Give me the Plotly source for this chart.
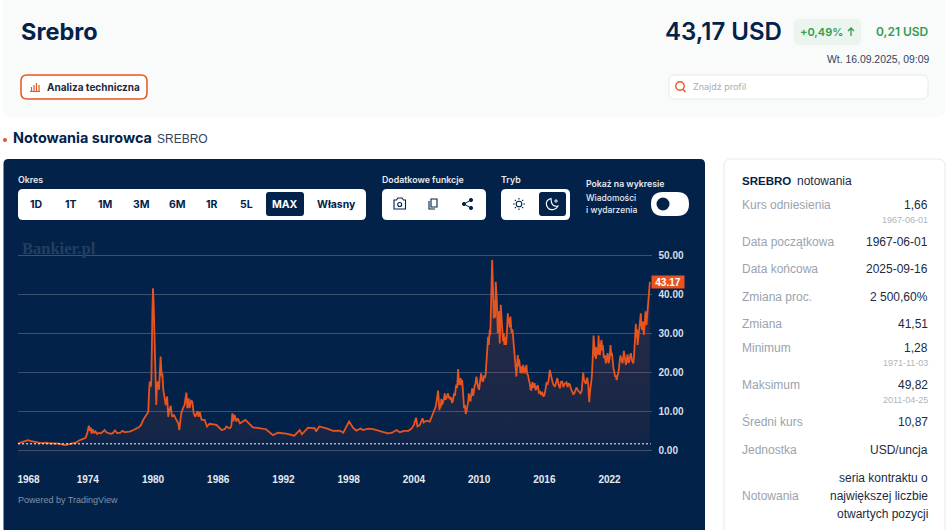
import re
import plotly.graph_objects as go

SZER = 948
WYS = 530

NAVY = '#03224a'
POMARANCZ = '#e8541f'
ZIELONY = '#2f9e4f'
SZARY = '#9aa3ad'
TEKST = '#1b2a41'

# notowania srebra, podzielone na okresy
lata_1967 = [
    1967.6, 1967.9, 1968.2, 1968.5, 1968.8, 1969.1, 1969.5, 1969.9, 1970.2, 1970.5,
    1970.9, 1971.3, 1971.7, 1971.9, 1972.3, 1972.7, 1972.95, 1973.2, 1973.5, 1973.8,
    1973.95, 1974.1, 1974.18, 1974.27, 1974.35, 1974.45, 1974.55, 1974.7, 1974.85, 1975.0,
    1975.2, 1975.4, 1975.55, 1975.7, 1975.85, 1976.1, 1976.3, 1976.5, 1976.7, 1977.0,
    1977.2, 1977.4, 1977.6, 1977.85, 1978.2, 1978.47, 1978.7, 1978.9, 1979.1, 1979.4,
    1979.57, 1979.63, 1979.7, 1979.8, 1979.85,
]
ceny_1967 = [
    1.75, 2.1, 2.3, 2.6, 2.35, 2.1, 1.95, 1.85, 1.95, 1.8,
    1.75, 1.7, 1.45, 1.35, 1.6, 1.75, 2.0, 2.5, 2.9, 3.2,
    4.4, 6.3, 5.0, 5.9, 4.3, 5.4, 4.4, 4.9, 4.2, 4.5,
    4.3, 4.7, 5.2, 4.6, 4.4, 4.2, 4.4, 5.1, 4.4, 4.5,
    5.0, 4.6, 4.7, 4.8, 5.2, 5.5, 5.9, 6.5, 7.8, 9.1,
    9.9, 14.6, 17.6, 16.3, 18.0,
]
lata_1980 = [
    1979.94, 1980.0, 1980.06, 1980.1, 1980.15, 1980.18, 1980.25, 1980.3, 1980.37, 1980.46,
    1980.55, 1980.6, 1980.7, 1980.8, 1980.86, 1980.95, 1981.04, 1981.17, 1981.3, 1981.4,
    1981.5, 1981.63, 1981.75, 1981.93, 1982.15, 1982.33, 1982.42, 1982.6, 1982.76, 1982.9,
    1983.07, 1983.16, 1983.28, 1983.37, 1983.5, 1983.62, 1983.74, 1983.9, 1984.08, 1984.2,
    1984.3, 1984.47, 1984.75, 1984.97, 1985.2, 1985.83, 1986.3, 1986.6, 1986.75, 1987.05,
    1987.2, 1987.3, 1987.4, 1987.5, 1987.67, 1987.8, 1988.0, 1988.5, 1989.2, 1990.4,
    1991.04, 1991.5, 1992.27, 1993.0, 1993.5, 1993.7, 1994.26, 1994.9, 1995.0, 1995.3,
    1995.95, 1996.56, 1997.18, 1997.5, 1998.04, 1998.4, 1998.7, 1999.1, 1999.3, 1999.8,
    2000.25, 2000.9, 2001.6, 2002.0, 2002.4, 2002.7, 2003.1, 2003.5, 2003.8, 2004.0,
    2004.2, 2004.33, 2004.55, 2004.8, 2004.9, 2005.15, 2005.46,
]
ceny_1980 = [
    35.0, 41.5, 37.7, 33.4, 33.8, 26.6, 16.3, 11.6, 17.2, 17.6,
    15.5, 18.0, 24.0, 18.9, 19.7, 15.5, 14.2, 11.6, 13.8, 8.6,
    10.3, 11.4, 8.6, 9.0, 7.8, 6.9, 5.2, 9.5, 10.8, 11.6,
    14.8, 10.8, 13.3, 10.8, 12.7, 12.5, 9.5, 8.6, 10.0, 8.6,
    9.9, 7.8, 7.8, 6.1, 6.8, 6.5, 5.2, 5.4, 6.1, 5.6,
    6.1, 9.5, 7.4, 9.1, 7.4, 8.2, 6.9, 7.8, 5.9, 5.4,
    3.9, 4.5, 4.3, 3.76, 5.2, 4.1, 5.8, 5.6, 4.8, 6.1,
    5.6, 5.0, 5.05, 4.5, 7.35, 5.8, 5.05, 5.6, 5.2, 5.55,
    5.4, 4.9, 4.35, 4.5, 5.2, 4.6, 5.0, 5.0, 5.6, 6.5,
    8.35, 6.1, 6.5, 8.2, 7.1, 7.6, 7.35,
]
lata_2005 = [
    2005.77, 2005.9, 2006.01, 2006.08, 2006.15, 2006.23, 2006.28, 2006.35, 2006.42, 2006.47,
    2006.53, 2006.6, 2006.69, 2006.76, 2006.84, 2006.92, 2007.0, 2007.06, 2007.14, 2007.22,
    2007.3, 2007.38, 2007.45, 2007.52, 2007.6, 2007.7, 2007.78, 2007.84, 2007.9, 2007.98,
    2008.07, 2008.12, 2008.16, 2008.23, 2008.31, 2008.37, 2008.44, 2008.49, 2008.53, 2008.62,
    2008.7, 2008.77, 2008.85, 2008.93, 2009.0, 2009.05, 2009.12, 2009.2, 2009.28, 2009.36,
    2009.43, 2009.5, 2009.58, 2009.66, 2009.75, 2009.82, 2009.9, 2010.0, 2010.08, 2010.18,
    2010.27, 2010.37, 2010.45, 2010.52, 2010.6, 2010.67, 2010.75, 2010.83, 2010.89, 2010.98,
]
ceny_2005 = [
    9.5, 10.2, 11.2, 12.4, 13.6, 15.3, 13.2, 10.3, 11.9, 11.0,
    13.2, 11.7, 12.5, 13.0, 14.6, 13.0, 13.4, 13.8, 14.6, 13.3,
    13.8, 12.9, 13.5, 12.1, 12.8, 14.6, 14.0, 15.6, 16.8, 16.0,
    20.8, 18.6, 16.8, 17.4, 18.5, 16.6, 18.0, 16.2, 13.8, 10.8,
    11.6, 9.3, 10.1, 11.2, 12.6, 14.6, 13.0, 12.5, 14.2, 15.9,
    14.0, 14.6, 16.5, 17.0, 18.9, 17.0, 16.3, 15.5, 18.0, 19.7,
    18.0, 17.6, 19.2, 18.5, 19.4, 22.3, 25.0, 29.1, 27.0, 30.9,
]
lata_2011 = [
    2011.03, 2011.07, 2011.14, 2011.2, 2011.25, 2011.29, 2011.35, 2011.4, 2011.44, 2011.48,
    2011.53, 2011.58, 2011.63, 2011.68, 2011.72, 2011.77, 2011.81, 2011.86, 2011.9, 2011.95,
    2011.99, 2012.04, 2012.09, 2012.15, 2012.21, 2012.27, 2012.33, 2012.4, 2012.48, 2012.55,
    2012.6, 2012.64, 2012.7, 2012.76, 2012.82, 2012.88, 2012.95, 2013.0, 2013.07, 2013.13,
    2013.2, 2013.28, 2013.33, 2013.37, 2013.43, 2013.5, 2013.56, 2013.62, 2013.68, 2013.74,
    2013.8, 2013.9, 2013.97, 2014.05, 2014.12, 2014.2, 2014.27, 2014.35, 2014.42, 2014.5,
    2014.58, 2014.66, 2014.73, 2014.8, 2014.9, 2015.0, 2015.1, 2015.2, 2015.3, 2015.4,
    2015.5, 2015.6, 2015.7, 2015.8, 2015.9, 2016.0, 2016.1, 2016.2, 2016.3, 2016.4,
    2016.5, 2016.6, 2016.7, 2016.8, 2016.97, 2017.07, 2017.2, 2017.3, 2017.43, 2017.52,
    2017.65, 2017.75, 2017.85, 2018.04, 2018.14, 2018.25, 2018.35, 2018.46, 2018.55, 2018.66,
    2018.76, 2018.85, 2018.96, 2019.1, 2019.2, 2019.33, 2019.43, 2019.5, 2019.58, 2019.65,
    2019.73, 2019.82, 2019.88, 2019.95, 2020.04, 2020.13, 2020.2, 2020.25, 2020.32, 2020.37,
]
ceny_2011 = [
    29.5, 33.8, 38.5, 48.8, 44.0, 40.3, 33.8, 36.5, 38.5, 34.0,
    43.2, 41.0, 38.5, 34.0, 30.0, 33.0, 35.6, 31.0, 27.4, 33.0,
    37.3, 35.0, 32.6, 30.0, 27.9, 30.0, 27.0, 29.0, 27.0, 30.0,
    33.0, 35.1, 32.5, 33.8, 31.5, 34.3, 31.5, 30.0, 31.0, 29.1,
    26.0, 24.0, 22.5, 21.0, 18.9, 22.0, 24.4, 21.5, 23.3, 21.9,
    19.8, 21.5, 19.7, 21.9, 20.0, 19.7, 21.0, 21.9, 19.6, 19.3,
    18.0, 17.2, 15.6, 15.5, 17.5, 16.0, 17.2, 15.4, 16.0, 16.7,
    14.8, 15.0, 14.2, 15.0, 13.9, 14.0, 15.5, 17.2, 17.0, 18.0,
    20.6, 19.3, 18.9, 17.0, 16.3, 17.2, 18.5, 17.0, 15.9, 17.5,
    17.6, 16.2, 17.0, 17.4, 16.2, 17.2, 16.8, 15.7, 14.8, 14.4,
    14.6, 15.1, 16.1, 15.3, 14.9, 14.6, 15.2, 17.0, 19.9, 18.0,
    17.6, 17.0, 18.0, 18.6, 16.8, 12.3, 15.0, 16.3, 17.4, 18.9,
]
lata_2020 = [
    2020.44, 2020.53, 2020.58, 2020.62, 2020.65, 2020.7, 2020.75, 2020.8, 2020.87, 2020.93,
    2020.99, 2021.05, 2021.11, 2021.18, 2021.26, 2021.32, 2021.38, 2021.48, 2021.57, 2021.66,
    2021.74, 2021.82, 2021.91, 2022.0, 2022.09, 2022.16, 2022.22, 2022.28, 2022.36, 2022.43,
    2022.5, 2022.58, 2022.65, 2022.72, 2022.83, 2022.92, 2023.0, 2023.1, 2023.2, 2023.32,
    2023.41, 2023.5, 2023.58, 2023.66, 2023.74, 2023.81, 2023.88, 2023.96, 2024.07, 2024.18,
    2024.25, 2024.33, 2024.38, 2024.42, 2024.47, 2024.53, 2024.58, 2024.65, 2024.73, 2024.8,
    2024.88, 2024.93, 2025.0, 2025.07, 2025.16, 2025.22, 2025.31, 2025.36, 2025.4, 2025.46,
    2025.53, 2025.59, 2025.65, 2025.71,
]
ceny_2020 = [
    22.7, 29.4, 27.5, 24.0, 24.0, 26.5, 23.4, 24.9, 26.3, 24.5,
    29.4, 26.0, 24.4, 27.0, 28.3, 25.6, 27.0, 23.6, 24.4, 22.3,
    23.5, 24.9, 22.3, 23.5, 27.0, 24.3, 25.0, 22.7, 21.0, 20.2,
    19.0, 19.0, 18.0, 19.0, 20.2, 22.5, 24.3, 23.2, 22.3, 25.5,
    23.0, 21.9, 23.2, 24.6, 22.4, 22.7, 24.0, 24.9, 23.0, 22.3,
    24.0, 27.4, 30.0, 32.4, 29.0, 31.0, 27.0, 29.0, 30.9, 32.0,
    35.1, 32.0, 30.9, 33.0, 29.6, 32.0, 35.6, 33.0, 32.1, 34.5,
    36.8, 38.0, 39.8, 43.17,
]
lata = lata_1967 + lata_1980 + lata_2005 + lata_2011 + lata_2020
ceny = ceny_1967 + ceny_1980 + ceny_2005 + ceny_2011 + ceny_2020

kurs_odniesienia = 1.66
kurs_ostatni = 43.17

etykiety_lat = ['1968', '1974', '1980', '1986', '1992', '1998', '2004', '2010', '2016', '2022']
pozycje_lat = [1968.55, 1974, 1980, 1986, 1992, 1998, 2004, 2010, 2016, 2022]
wartosci_osi = [0, 10, 20, 30, 40, 50]

okresy = ['1D', '1T', '1M', '3M', '6M', '1R', '5L', 'MAX', 'Własny']
okresy_x = [36, 71, 105, 141, 177, 212, 246, 285, 336]

tabela_etykiety = ['Kurs odniesienia', 'Data początkowa', 'Data końcowa', 'Zmiana proc.', 'Zmiana',
                   'Minimum', 'Maksimum', 'Średni kurs', 'Jednostka', 'Notowania']
tabela_wartosci = ['1,66', '1967-06-01', '2025-09-16', '2 500,60%', '41,51',
                   '1,28', '49,82', '10,87', 'USD/uncja', 'największej liczbie']
tabela_y = [205, 242, 269, 296.5, 324, 348, 385, 421.5, 449.5, 496]
tabela_daty = ['1967-06-01', '1971-11-03', '2011-04-25']
tabela_daty_y = [220, 362.5, 400]


def sciezka(d):
    # zamienia sciezke w pikselach strony na wspolrzedne paper
    wynik = []
    os_x = True
    for t in re.findall(r'[MLQCZ]|-?\d+\.?\d*', d):
        if t.isalpha():
            wynik.append(t)
            continue
        v = float(t)
        wynik.append(f'{v / SZER:.5f}' if os_x else f'{1 - v / WYS:.5f}')
        os_x = not os_x
    return ' '.join(wynik)


def prostokat(x0, y0, x1, y1, r, fill, line=None, width=1):
    d = (f'M {x0 + r} {y0} L {x1 - r} {y0} Q {x1} {y0} {x1} {y0 + r} L {x1} {y1 - r} '
         f'Q {x1} {y1} {x1 - r} {y1} L {x0 + r} {y1} Q {x0} {y1} {x0} {y1 - r} '
         f'L {x0} {y0 + r} Q {x0} {y0} {x0 + r} {y0} Z')
    return dict(type='path', path=sciezka(d), xref='paper', yref='paper', layer='below',
                fillcolor=fill, line=dict(color=line if line else fill, width=width if line else 0))


def kreska(d, color, width=1.2, fill=None):
    return dict(type='path', path=sciezka(d), xref='paper', yref='paper', layer='above',
                fillcolor=fill if fill else 'rgba(0,0,0,0)', line=dict(color=color, width=width))


def kolo(cx, cy, r, color, width=1.2, fill=None):
    return dict(type='circle', xref='paper', yref='paper', layer='above',
                x0=(cx - r) / SZER, x1=(cx + r) / SZER, y0=1 - (cy + r) / WYS, y1=1 - (cy - r) / WYS,
                fillcolor=fill if fill else 'rgba(0,0,0,0)', line=dict(color=color, width=width))


def tekst(x, y, s, size, color, anchor='left', family='Inter', weight=400):
    # adnotacja ma okolo 1.5 px luzu po bokach
    if anchor == 'left':
        x -= 1.5
    elif anchor == 'right':
        x += 1.5
    return dict(x=x / SZER, y=1 - y / WYS, xref='paper', yref='paper', text=s, showarrow=False,
                xanchor=anchor, yanchor='middle', borderpad=0,
                font=dict(size=size, color=color, family=family, weight=weight))


ARIAL = 'Liberation Sans'

ksztalty = [
    prostokat(3, -10, 945, 117, 7, '#f9fafa'),
    prostokat(21, 75, 147, 99, 6, '#ffffff', POMARANCZ, 1.5),
    prostokat(669, 75, 928, 99, 6, '#ffffff', '#e8e9ea', 1),
    prostokat(794, 19, 861, 45, 5, '#ebf5ed'),
    prostokat(3.5, 159, 705, 545, 5, NAVY),
    prostokat(724, 159, 945, 545, 7, '#ffffff', '#e7e9eb', 1),
    prostokat(18, 189, 366, 220, 5, '#ffffff'),
    prostokat(266, 192, 304, 216, 3, NAVY),
    prostokat(382, 189, 486, 220, 5, '#ffffff'),
    prostokat(501, 189, 570, 220, 5, '#ffffff'),
    prostokat(539, 192, 566, 216, 3, NAVY),
    prostokat(651, 192, 689, 216, 12, '#ffffff'),
    kolo(663, 204, 6.5, NAVY, 0, NAVY),
    kolo(5, 140, 2, POMARANCZ, 0, POMARANCZ),
    # ikona analizy
    kreska('M 30 91.5 L 40 91.5', POMARANCZ, 1),
    kreska('M 31.5 91 L 31.5 87', POMARANCZ, 1.2),
    kreska('M 34 91 L 34 85', POMARANCZ, 1.2),
    kreska('M 36.5 91 L 36.5 83', POMARANCZ, 1.2),
    kreska('M 39 91 L 39 85', POMARANCZ, 1.2),
    # lupa
    kolo(680, 86, 4.2, POMARANCZ, 1.4),
    kreska('M 683 89.5 L 685.5 92', POMARANCZ, 1.4),
    # strzalka przy zmianie
    kreska('M 851 36 L 851 28 M 848 31 L 851 28 L 854 31', ZIELONY, 1.3),
    # aparat
    kreska('M 394 200 L 396.5 200 L 398 198 L 402 198 L 403.5 200 L 405.5 200 L 405.5 209 L 394 209 Z', NAVY, 1.1),
    kolo(399.7, 204.5, 2, NAVY, 1.1),
    # kopiowanie
    kreska('M 431 199 L 437 199 L 437 207 L 431 207 Z', NAVY, 1.1),
    kreska('M 429 201 L 429 209 L 435 209', NAVY, 1.1),
    # udostepnianie
    kreska('M 471 200 L 464 204 L 471 208', NAVY, 1),
    kolo(471, 200, 1.6, NAVY, 1, NAVY),
    kolo(464, 204, 1.6, NAVY, 1, NAVY),
    kolo(471, 208, 1.6, NAVY, 1, NAVY),
    # slonce
    kolo(519, 204, 2.8, NAVY, 1.1),
    kreska('M 519 198 L 519 199.6 M 519 208.4 L 519 210 M 513 204 L 514.6 204 M 523.4 204 L 525 204 '
           'M 514.8 199.8 L 515.9 200.9 M 522.1 207.1 L 523.2 208.2 M 514.8 208.2 L 515.9 207.1 '
           'M 522.1 200.9 L 523.2 199.8', NAVY, 1.1),
    # ksiezyc
    kreska('M 551 198.5 Q 545.5 200 546.5 205 Q 548 210.5 553.5 209.5 Q 556.5 209 558 206 '
           'Q 551 207.5 551 198.5 Z', '#ffffff', 1.1),
    kreska('M 556 199 L 556 203 M 554 201 L 558 201', '#ffffff', 0.9),
]

napisy = [
    tekst(21, 32, 'Srebro', 23.5, NAVY, weight=700),
    tekst(47, 87, 'Analiza techniczna', 10, TEKST, weight=700),
    tekst(781, 32, '43,17 USD', 24, NAVY, 'right', weight=600),
    tekst(800, 32, '+0,49%', 11, ZIELONY, weight=600),
    tekst(928, 32, '0,21 USD', 12, ZIELONY, 'right', weight=600),
    tekst(928, 60, 'Wt. 16.09.2025, 09:09', 10.4, '#33435c', 'right', ARIAL),
    tekst(693, 87, 'Znajdź profil', 9, '#a9adb3'),
    tekst(13, 138, 'Notowania surowca', 14.4, NAVY, weight=700),
    tekst(157, 139, 'SREBRO', 12, '#33435c', family=ARIAL),
    tekst(18, 180, 'Okres', 8.8, '#e6eaf0', weight=600),
    tekst(382, 180, 'Dodatkowe funkcje', 8.8, '#e6eaf0', weight=600),
    tekst(501, 180, 'Tryb', 8.8, '#e6eaf0', weight=600),
    tekst(586, 184, 'Pokaż na wykresie', 8.7, '#e6eaf0', weight=600),
    tekst(586, 198, 'Wiadomości', 8.5, '#e6eaf0', weight=500),
    tekst(586, 210, 'i wydarzenia', 8.5, '#e6eaf0', weight=500),
    tekst(22, 248, 'Bankier.pl', 16.5, '#223f60', family='Liberation Serif', weight=700),
    tekst(18, 500, 'Powered by TradingView', 9, '#8291a5', family=ARIAL),
    tekst(742, 181, 'SREBRO', 11.5, NAVY, family=ARIAL, weight=700),
    tekst(797, 181, 'notowania', 12, TEKST, family=ARIAL),
    tekst(927, 478, 'seria kontraktu o', 12, TEKST, 'right', ARIAL),
    tekst(927, 514, 'otwartych pozycji', 12, TEKST, 'right', ARIAL),
]

for nazwa, x in zip(okresy, okresy_x):
    kolor = '#ffffff' if nazwa == 'MAX' else NAVY
    napisy.append(tekst(x, 204, nazwa, 10.5, kolor, 'center', weight=700))

for nazwa, wartosc, y in zip(tabela_etykiety, tabela_wartosci, tabela_y):
    napisy.append(tekst(742, y, nazwa, 12, SZARY, family=ARIAL))
    napisy.append(tekst(927, y, wartosc, 12, TEKST, 'right', ARIAL))

for data, y in zip(tabela_daty, tabela_daty_y):
    napisy.append(tekst(927, y, data, 9, '#aeb5bd', 'right', ARIAL))

# znacznik ostatniego kursu na osi
napisy.append(dict(x=651 / SZER, y=kurs_ostatni, xref='paper', yref='y', text=f'{kurs_ostatni:.2f}',
                   showarrow=False, xanchor='left', yanchor='middle', width=32, height=12, borderpad=0,
                   bgcolor=POMARANCZ, align='center',
                   font=dict(size=10, color='#ffffff', family=ARIAL, weight=700)))

y_dol = -3.0
y_gora = 53.9

fig = go.Figure()

# podstawa pod wypelnienie, schodzi ponizej zera jak na oryginale
fig.add_trace(go.Scatter(x=[lata[0], lata[-1]], y=[y_dol, y_dol], mode='lines',
                         line=dict(width=0), hoverinfo='skip', showlegend=False))
fig.add_trace(go.Scatter(x=lata, y=ceny, mode='lines', fill='tonexty',
                         fillgradient=dict(type='vertical', start=y_dol, stop=50,
                                           colorscale=[[0, 'rgba(232,85,42,0)'],
                                                       [0.15, 'rgba(232,85,42,0.08)'],
                                                       [1, 'rgba(232,85,42,0.2)']]),
                         line=dict(color=POMARANCZ, width=1.8), showlegend=False))
fig.add_trace(go.Scatter(x=[1967.58, 2025.8], y=[kurs_odniesienia, kurs_odniesienia], mode='lines',
                         line=dict(color='#ffffff', width=1, dash='2px,2px'),
                         hoverinfo='skip', showlegend=False))

fig.update_layout(
    width=SZER,
    height=WYS,
    margin=dict(l=0, r=0, t=0, b=0),
    paper_bgcolor='#ffffff',
    plot_bgcolor='rgba(0,0,0,0)',
    shapes=ksztalty,
    annotations=napisy,
    xaxis=dict(
        domain=[18 / SZER, 651.5 / SZER],
        range=[1967.58, 2025.86],
        tickvals=pozycje_lat,
        ticktext=etykiety_lat,
        showgrid=False,
        zeroline=False,
        ticks='',
        ticklabelstandoff=10,
        tickfont=dict(size=10, color='#e6eaf0', family=ARIAL, weight=700),
    ),
    yaxis=dict(
        domain=[1 - 462 / WYS, 1 - 240 / WYS],
        range=[y_dol, y_gora],
        side='right',
        tickvals=wartosci_osi,
        tickformat='.2f',
        gridcolor='#3a5170',
        gridwidth=1,
        zeroline=False,
        ticks='',
        ticklabelstandoff=6,
        tickfont=dict(size=10, color='#d8dee6', family=ARIAL, weight=700),
    ),
)

fig.write_html('out.html', config={'displayModeBar': False},
               post_script="document.body.style.margin='0';document.body.style.overflow='hidden';")
